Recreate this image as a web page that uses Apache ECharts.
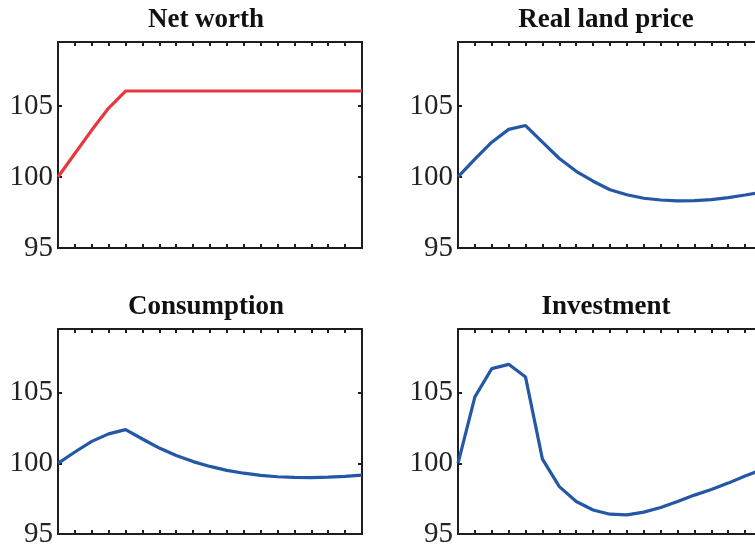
<!DOCTYPE html>
<html>
<head>
<meta charset="utf-8">
<script src="https://cdn.jsdelivr.net/npm/echarts@6/dist/echarts.min.js"></script>
<style>
  html, body { margin: 0; padding: 0; background: #fff; }
  #chart { width: 755px; height: 548px; }
</style>
</head>
<body>
<div id="chart"></div>
<script>
// periods 0..18
const periods = Array.from({ length: 19 }, (_, i) => i)

const netWorth = [100, 101.65, 103.3, 104.85, 106.05, 106.05, 106.05, 106.05, 106.05, 106.05,
  106.05, 106.05, 106.05, 106.05, 106.05, 106.05, 106.05, 106.05, 106.05]
const landPrice = [100, 101.25, 102.45, 103.35, 103.62, 102.45, 101.3, 100.4, 99.7, 99.1,
  98.75, 98.5, 98.38, 98.32, 98.33, 98.4, 98.55, 98.73, 98.92]
const consumption = [100, 100.8, 101.55, 102.08, 102.38, 101.72, 101.08, 100.55, 100.12, 99.78,
  99.5, 99.3, 99.15, 99.05, 99.0, 98.99, 99.02, 99.08, 99.16]
const investment = [100, 104.7, 106.7, 107.0, 106.1, 100.3, 98.35, 97.3, 96.7, 96.4,
  96.35, 96.55, 96.88, 97.3, 97.75, 98.15, 98.6, 99.1, 99.55]

const titles = ['Net worth', 'Real land price', 'Consumption', 'Investment']
const seriesData = [netWorth, landPrice, consumption, investment]
const lineColors = ['#e8383d', '#2457a6', '#2457a6', '#2457a6']

// right-hand panels run past the window edge, as in the original figure
const panels = [
  { left: 58, top: 42, height: 206 },
  { left: 458, top: 42, height: 206 },
  { left: 58, top: 329, height: 205 },
  { left: 458, top: 329, height: 205 }
]
const panelWidth = 304
const ink = '#1e1e1e'
const serif = '"Liberation Serif", "DejaVu Serif", serif'

const chart = echarts.init(document.getElementById('chart'))

const grid = []
const xAxis = []
const yAxis = []
const series = []
const graphic = []

panels.forEach((p, k) => {
  grid.push({
    left: p.left,
    top: p.top,
    width: panelWidth,
    height: p.height,
    containLabel: false,
    outerBoundsMode: 'none'
  })

  const frame = { lineStyle: { color: ink, width: 2 } }
  const tick = { inside: true, length: 4, lineStyle: { color: ink, width: 2 } }

  ;['bottom', 'top'].forEach(pos => {
    xAxis.push({
      gridIndex: k,
      type: 'value',
      position: pos,
      min: 0,
      max: 18,
      interval: 1,
      axisLine: { show: true, onZero: false, ...frame },
      axisTick: tick,
      axisLabel: { show: false },
      splitLine: { show: false }
    })
  })

  ;['left', 'right'].forEach(pos => {
    yAxis.push({
      gridIndex: k,
      type: 'value',
      position: pos,
      min: 95,
      max: 109.5,
      interval: 5,
      axisLine: { show: true, onZero: false, ...frame },
      axisTick: tick,
      axisLabel: {
        show: pos === 'left',
        showMaxLabel: false,
        margin: 5,
        color: '#222',
        fontFamily: serif,
        fontSize: 29
      },
      splitLine: { show: false }
    })
  })

  series.push({
    type: 'line',
    xAxisIndex: k * 2,
    yAxisIndex: k * 2,
    data: periods.map((t, i) => [t, seriesData[k][i]]),
    showSymbol: false,
    smooth: false,
    lineStyle: { color: lineColors[k], width: 3.2 },
    z: 1
  })

  graphic.push({
    type: 'text',
    x: p.left + panelWidth / 2 - 4,
    y: p.top - 22,
    style: {
      text: titles[k],
      fill: '#111',
      font: 'bold 27px ' + serif,
      textAlign: 'center',
      textVerticalAlign: 'middle'
    }
  })
})

chart.setOption({
  animation: false,
  backgroundColor: '#fff',
  grid,
  xAxis,
  yAxis,
  series,
  graphic
})

window.addEventListener('resize', () => {
  chart.resize()
})
</script>
</body>
</html>
